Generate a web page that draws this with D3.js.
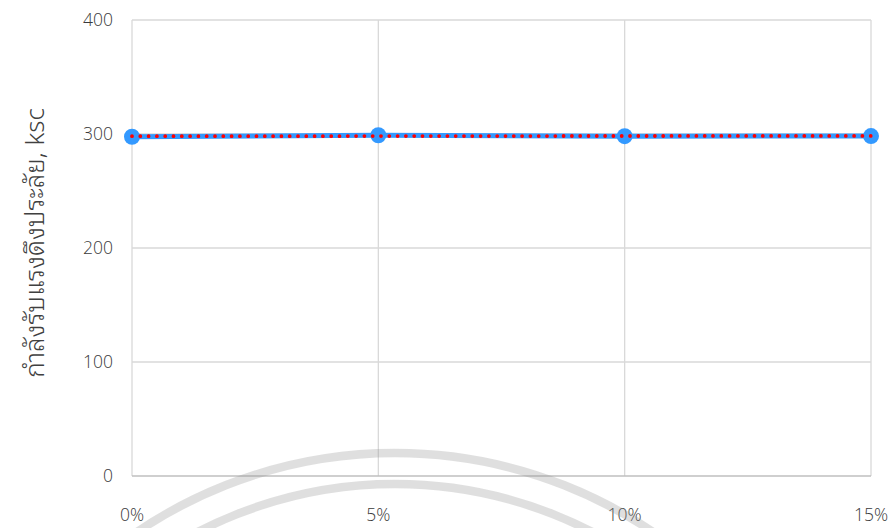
<!DOCTYPE html>
<html>
<head>
<meta charset="utf-8">
<script src="https://cdn.jsdelivr.net/npm/d3@7"></script>
<style>
  html, body { margin: 0; padding: 0; background: #fff; }
  svg { display: block; }
  .tick-label { font-family: "Open Sans", "Noto Sans", sans-serif; font-size: 17.5px; fill: #3a3a3a; font-weight: 300; }
  .axis-title { font-family: "Noto Sans Thai Looped", "Noto Sans Thai", "Loma", "Garuda", "Noto Sans", "Open Sans", sans-serif; font-size: 26px; fill: #404040; font-weight: 300; }
</style>
</head>
<body>
<script>
// Tensile strength (ksc) against replacement percentage
const categories = ["0%", "5%", "10%", "15%"];
const strength = [297.6, 298.9, 298.1, 298.2];
const yTicks = [0, 100, 200, 300, 400];
const yTitle = "กำลังรับแรงดึงประลัย, ksc";

const W = 894, H = 528;
const svg = d3.select("body").append("svg").attr("width", W).attr("height", H);

const x = d3.scalePoint().domain(categories).range([132, 871]);
const y = d3.scaleLinear().domain([0, 400]).range([476, 20]);

// horizontal gridlines
svg.append("g").selectAll("line").data(yTicks.filter(t => t > 0)).join("line")
  .attr("x1", x(categories[0])).attr("x2", x(categories[categories.length - 1]))
  .attr("y1", d => y(d)).attr("y2", d => y(d))
  .attr("stroke", "#d9d9d9").attr("stroke-width", 1.3);

// vertical gridlines
svg.append("g").selectAll("line").data(categories).join("line")
  .attr("x1", d => x(d)).attr("x2", d => x(d))
  .attr("y1", y(400)).attr("y2", y(0))
  .attr("stroke", "#d9d9d9").attr("stroke-width", 1.3);

// baseline
svg.append("line")
  .attr("x1", x(categories[0])).attr("x2", x(categories[categories.length - 1]))
  .attr("y1", y(0)).attr("y2", y(0))
  .attr("stroke", "#bfbfbf").attr("stroke-width", 1.3);

// y tick labels
svg.append("g").selectAll("text").data(yTicks).join("text")
  .attr("class", "tick-label")
  .attr("x", 113).attr("y", d => y(d))
  .attr("dy", "0.35em").attr("text-anchor", "end")
  .text(d => d);

// x tick labels
svg.append("g").selectAll("text").data(categories).join("text")
  .attr("class", "tick-label")
  .attr("x", d => x(d)).attr("y", 521)
  .attr("text-anchor", "middle")
  .text(d => d);

// y axis title
svg.append("text")
  .attr("class", "axis-title")
  .attr("transform", "translate(44,243) rotate(-90)")
  .attr("text-anchor", "middle")
  .text(yTitle);

// data series
const pts = categories.map((c, i) => ({ c, v: strength[i] }));
svg.append("path")
  .datum(pts)
  .attr("d", d3.line().x(d => x(d.c)).y(d => y(d.v)))
  .attr("fill", "none").attr("stroke", "#3399ff").attr("stroke-width", 5);

svg.append("g").selectAll("circle").data(pts).join("circle")
  .attr("cx", d => x(d.c)).attr("cy", d => y(d.v)).attr("r", 8)
  .attr("fill", "#3399ff");

// linear trendline
const n = strength.length;
const xs = d3.range(n);
const mx = d3.mean(xs), my = d3.mean(strength);
const slope = d3.sum(xs, (xi, i) => (xi - mx) * (strength[i] - my)) / d3.sum(xs, xi => (xi - mx) ** 2);
const icpt = my - slope * mx;
const trend = [0, n - 1].map(i => ({ c: categories[i], v: icpt + slope * i }));
svg.append("path")
  .datum(trend)
  .attr("d", d3.line().x(d => x(d.c)).y(d => y(d.v)))
  .attr("fill", "none").attr("stroke", "#ff0000").attr("stroke-width", 3.8)
  .attr("stroke-linecap", "round").attr("stroke-dasharray", "0 8.3");

// faint ring emblem near the bottom
const ring = svg.append("g").attr("fill", "none")
  .attr("stroke", "rgba(150,150,150,0.3)").attr("stroke-width", 8.5);
ring.append("circle").attr("cx", 395).attr("cy", 913).attr("r", 460);
ring.append("circle").attr("cx", 395).attr("cy", 913).attr("r", 429);
</script>
</body>
</html>
